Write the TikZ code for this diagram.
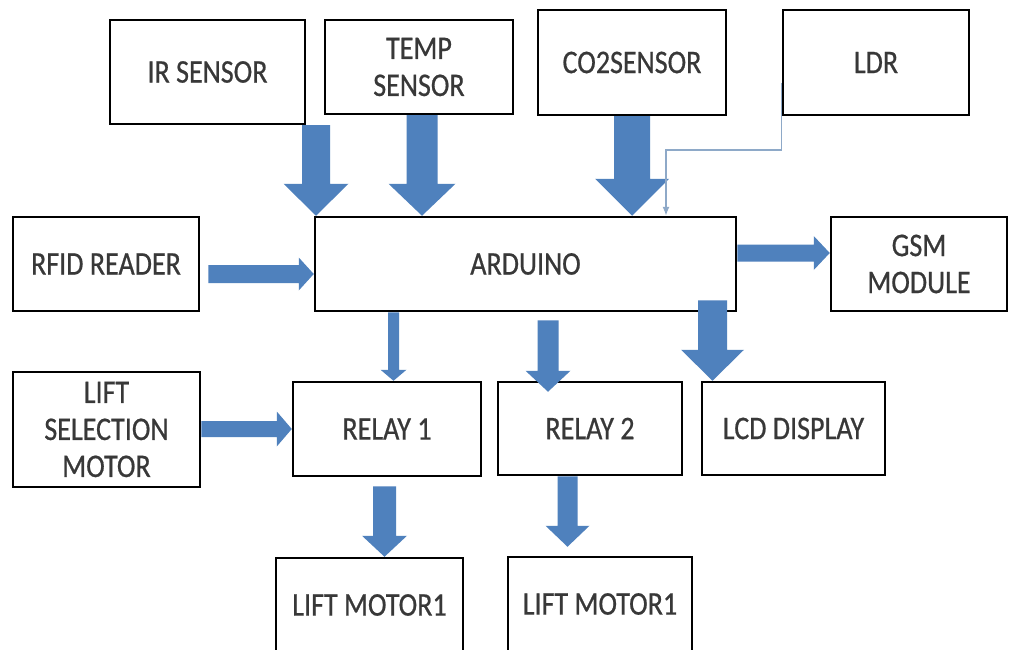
\documentclass[tikz,border=0pt]{standalone}
\usepackage{fontspec}
\setmainfont[FakeStretch=0.85,FakeBold=0.6]{Carlito}
\usetikzlibrary{arrows.meta,calc}
\definecolor{blk}{HTML}{4F81BD}
\definecolor{txt}{HTML}{383838}
\definecolor{ldrline}{HTML}{8EA9C8}
\newcommand\vblock[5]{\fill[blk] let \p1=(#1), \p2=(#2) in
  (\x1-#3pt,\y1) -- (\x1+#3pt,\y1) -- (\x1+#3pt,\y2+#5pt) -- (\x1+#4pt,\y2+#5pt)
  -- (\x1,\y2) -- (\x1-#4pt,\y2+#5pt) -- (\x1-#3pt,\y2+#5pt) -- cycle;}
\newcommand\hblock[5]{\fill[blk] let \p1=(#1), \p2=(#2) in
  (\x1,\y1-#3pt) -- (\x2-#5pt,\y1-#3pt) -- (\x2-#5pt,\y1-#4pt) -- (\x2,\y1)
  -- (\x2-#5pt,\y1+#4pt) -- (\x2-#5pt,\y1+#3pt) -- (\x1,\y1+#3pt) -- cycle;}
\begin{document}
\begin{tikzpicture}[x=1pt,y=-1pt,
  box/.style={draw=black,line width=2.5pt,fill=white,inner sep=0pt,align=center,
    text=txt,font=\fontsize{33}{37}\selectfont}]
\useasboundingbox (0,0) rectangle (1009,650);
\fill[white] (0,0) rectangle (1009,650);
% boxes
\node[box,minimum width=195pt,minimum height=104pt] (ir) at (207.5,72) {IR SENSOR};
\node[box,minimum width=188pt,minimum height=94pt] (temp) at (419,67) {TEMP\\SENSOR};
\node[box,minimum width=188pt,minimum height=105pt] (co2) at (632,62.5) {CO2SENSOR};
\node[box,minimum width=186pt,minimum height=105pt] (ldr) at (876,62.5) {LDR};
\node[box,minimum width=186pt,minimum height=94pt] (rfid) at (106,264) {RFID READER};
\node[box,minimum width=421pt,minimum height=94pt] (ard) at (525.5,264) {ARDUINO};
\node[box,minimum width=176pt,minimum height=94pt] (gsm) at (919,264) {GSM\\MODULE};
\node[box,minimum width=187pt,minimum height=115pt] (lsm) at (106.5,429.5) {LIFT\\SELECTION\\MOTOR};
\node[box,minimum width=188pt,minimum height=94pt] (r1) at (387,429) {RELAY 1};
\node[box,minimum width=184pt,minimum height=93pt] (r2) at (590,428.5) {RELAY 2};
\node[box,minimum width=183pt,minimum height=93pt] (lcd) at (793.5,428.5) {LCD DISPLAY};
\node[box,minimum width=187pt,minimum height=94pt] (lm1) at (369.5,605) {LIFT MOTOR1};
\node[box,minimum width=184pt,minimum height=94pt] (lm2) at (600,604) {LIFT MOTOR1};
% arrow end points
\path (316,0 |- ir.south) coordinate (a1s) (316,0 |- ard.north) coordinate (a1e);
\path (422,0 |- temp.south) coordinate (a2s) (422,0 |- ard.north) coordinate (a2e);
\path (632,0 |- co2.south) coordinate (a3s) (632,0 |- ard.north) coordinate (a3e);
\path (rfid.east) ++(8,10) coordinate (a5s) (ard.west |- a5s) coordinate (a5e);
\path (ard.east |- 0,253) coordinate (a6s) (gsm.west |- a6s) coordinate (a6e);
\path (393.5,0 |- ard.south) coordinate (a7s) (393.5,0 |- r1.north) coordinate (a7e);
\path (548,0 |- ard.south) ++(0,8) coordinate (a8s) (548,0 |- r2.north) ++(0,11) coordinate (a8e);
\path (712.5,0 |- ard.south) ++(0,-12) coordinate (a9s) (712.5,0 |- lcd.north) coordinate (a9e);
\path (lsm.east |- 0,429) coordinate (a10s) (r1.west |- a10s) coordinate (a10e);
\path (384.5,0 |- r1.south) ++(0,9) coordinate (a11s) (384.5,0 |- lm1.north) coordinate (a11e);
\path (567.5,0 |- r2.south) coordinate (a12s) (567.5,0 |- lm2.north) ++(0,-9) coordinate (a12e);
% block arrows
\vblock{a1s}{a1e}{14}{32.5}{32}
\vblock{a2s}{a2e}{15.5}{33.5}{32}
\vblock{a3s}{a3e}{18}{37}{37}
\hblock{a5s}{a5e}{9}{16.5}{15}
\hblock{a6s}{a6e}{8.5}{17}{16}
\vblock{a7s}{a7e}{5.5}{13}{11}
\vblock{a8s}{a8e}{10.5}{22.5}{21}
\vblock{a9s}{a9e}{14.5}{31.5}{31}
\hblock{a10s}{a10e}{8}{17.5}{15}
\vblock{a11s}{a11e}{11.5}{22.5}{21}
\vblock{a12s}{a12e}{10}{22}{21}
% LDR thin connector
\path (ldr.west |- 0,83) coordinate (ls) (666,0 |- ard.north) coordinate (le);
\draw[draw=ldrline,line width=1.3pt,-{Latex[length=9pt,width=7pt]}] (ls) -- (ls |- 0,150) -| (le);
\end{tikzpicture}
\end{document}
